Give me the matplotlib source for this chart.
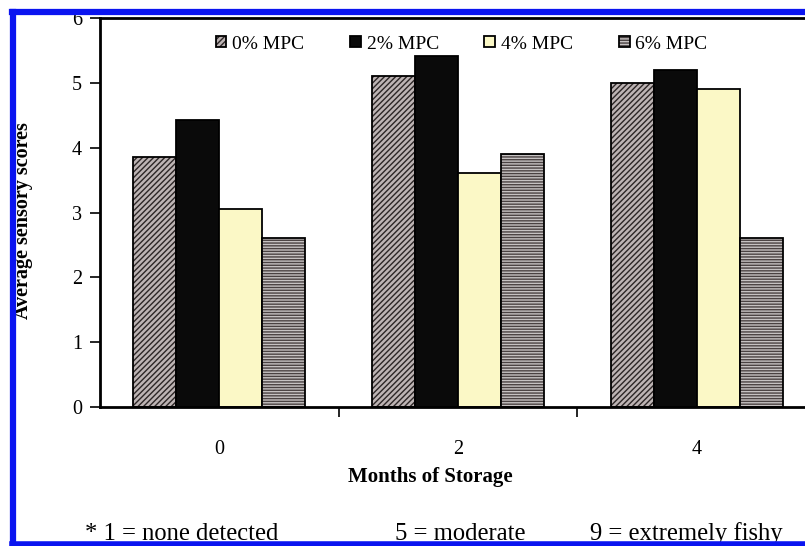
import matplotlib
matplotlib.use("Agg")
import matplotlib.pyplot as plt
import numpy as np
from matplotlib.colors import to_rgba
from matplotlib.lines import Line2D

plt.rcParams['font.family'] = ['Liberation Serif', 'DejaVu Serif']
plt.rcParams['hatch.linewidth'] = 1.0

categories = ["0", "2", "4"]
series = ["0% MPC", "2% MPC", "4% MPC", "6% MPC"]
values = {
    "0% MPC": [3.86, 5.10, 5.00],
    "2% MPC": [4.42, 5.42, 5.20],
    "4% MPC": [3.05, 3.61, 4.90],
    "6% MPC": [2.60, 3.90, 2.60],
}
y_ticks = [0, 1, 2, 3, 4, 5, 6]
footnotes = ["* 1 = none detected", "5 = moderate", "9 = extremely fishy"]

styles = {
    "0% MPC": dict(fc="#bdb4b4", hatch="//////", hc="#2c2626"),
    "2% MPC": dict(fc="#0a0a0a", hatch=None, hc="#0a0a0a"),
    "4% MPC": dict(fc="#fbf8c6", hatch=None, hc="#000000"),
    "6% MPC": dict(fc="#c6c2c2", hatch="------", hc="#4a4242"),
}

W, H = 805, 546
fig = plt.figure(figsize=(W / 100, H / 100), dpi=100)
ax = fig.add_axes([100 / W, (H - 407) / H, 716 / W, 389 / H])

x = np.arange(len(categories))
bw = 0.18
for i, s in enumerate(series):
    st = styles[s]
    bars = ax.bar(x + (i - 1.5) * bw, values[s], width=bw, color=st["fc"],
                  edgecolor="black", linewidth=1.3, hatch=st["hatch"], label=s,
                  zorder=2)
    for p in bars:
        p._hatch_color = to_rgba(st["hc"])

ax.set_xlim(-0.5, 2.5)
ax.set_ylim(0, 6)
ax.set_yticks(y_ticks)
ax.set_yticklabels([str(t) for t in y_ticks], fontsize=14.5)
ax.set_xticks(x)
ax.set_xticklabels(categories, fontsize=14.5)
ax.set_xticks([0.5, 1.5], minor=True)
ax.tick_params(axis='x', which='major', length=0, pad=24)
ax.tick_params(axis='x', which='minor', length=7, width=1.2, direction='out')
ax.tick_params(axis='y', length=7, width=1.2, direction='out', pad=6)
for sp in ["left", "bottom", "top", "right"]:
    ax.spines[sp].set_linewidth(2)

ax.set_ylabel("Average sensory scores", fontsize=14.5, fontweight='bold')
ax.yaxis.set_label_coords(-0.094, 0.478)
fig.text(430 / W, 1 - 477 / H, "Months of Storage", fontsize=15, fontweight='bold',
         ha='center', va='center')

leg = ax.legend(loc='upper center', ncol=4, frameon=False, fontsize=14,
                bbox_to_anchor=(0.505, 0.99), handlelength=0.55, handleheight=0.55,
                handletextpad=0.3, columnspacing=2.35, borderaxespad=0.3)

fx = [85, 395, 590]
for xx, t in zip(fx, footnotes):
    fig.text(xx / W, 1 - 540 / H, t, fontsize=17.7, ha='left', va='baseline')

blue = "#0a14f0"
fig.add_artist(Line2D([12 / W, 1.05], [1 - 12 / H, 1 - 12 / H], color=blue, lw=4.5,
                      transform=fig.transFigure, zorder=10))
fig.add_artist(Line2D([13 / W, 13 / W], [1 - 12 / H, 1 - 543 / H], color=blue, lw=4.5,
                      transform=fig.transFigure, zorder=10))
fig.add_artist(Line2D([12 / W, 1.05], [1 - 544 / H, 1 - 544 / H], color=blue, lw=4,
                      transform=fig.transFigure, zorder=10))

fig.savefig("out.png", dpi=100)
